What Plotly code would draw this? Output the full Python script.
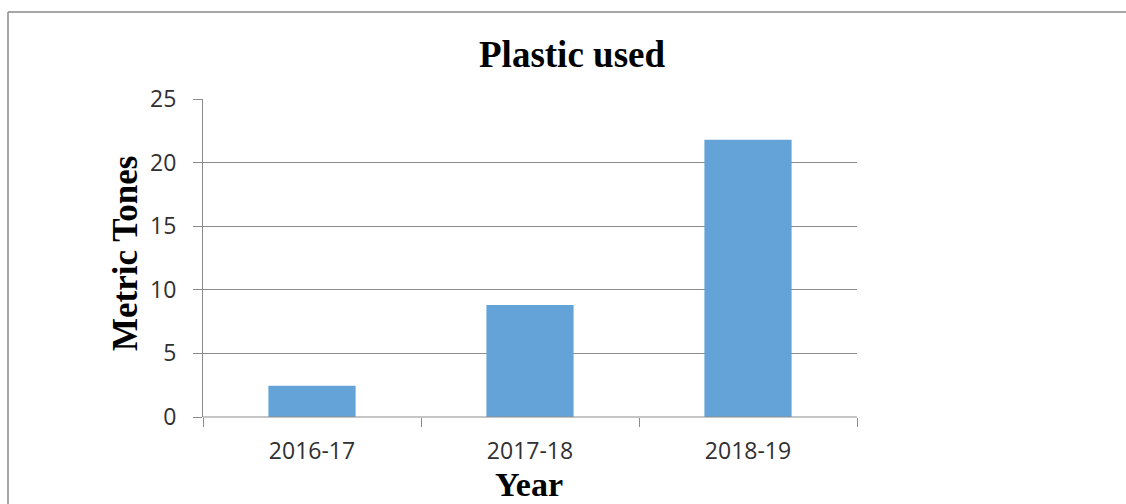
import plotly.graph_objects as go

categories = ["2016-17", "2017-18", "2018-19"]
values = [2.45, 8.8, 21.8]
y_ticks = [0, 5, 10, 15, 20, 25]

W, H = 1126, 504
L, R, T, B = 203, 857, 99.3, 416.7
pw, ph = R - L, B - T

def px(x):
    return (x - L) / pw

def py(y):
    return (B - y) / ph

grid = "#8C8C8C"
serif = "Liberation Serif, Times New Roman, serif"
sans = "Open Sans, sans-serif"

fig = go.Figure(go.Bar(
    x=categories, y=values, width=0.4,
    marker=dict(color="#64A3D7", line=dict(width=0)),
))

fig.update_layout(
    width=W, height=H,
    margin=dict(l=L, r=W - R, t=T, b=H - B, pad=0),
    paper_bgcolor="white", plot_bgcolor="white",
    showlegend=False,
    xaxis=dict(
        type="category", showgrid=False, showline=False,
        ticks="outside", tickson="boundaries", ticklen=9, tickcolor=grid, tickwidth=1,
        tickfont=dict(family=sans, size=23, color="#303030"),
        ticklabelstandoff=18,
        zeroline=False,
    ),
    yaxis=dict(
        range=[0, 25], tickvals=y_ticks, showgrid=True, gridcolor=grid, gridwidth=1,
        showline=True, linecolor=grid, linewidth=1,
        ticks="outside", ticklen=9, tickcolor=grid, tickwidth=1,
        tickfont=dict(family=sans, size=23, color="#303030"),
        ticklabelstandoff=12,
        zeroline=False,
    ),
    annotations=[
        dict(text="<b>Plastic used</b>", x=px(572), y=py(55), xref="paper", yref="paper",
             showarrow=False, font=dict(family=serif, size=37, color="black"),
             xanchor="center", yanchor="middle"),
        dict(text="<b>Metric Tones</b>", x=px(126), y=py(254), xref="paper", yref="paper",
             showarrow=False, textangle=-90, font=dict(family=serif, size=35, color="black"),
             xanchor="center", yanchor="middle"),
        dict(text="<b>Year</b>", x=px(529), y=py(484), xref="paper", yref="paper",
             showarrow=False, font=dict(family=serif, size=34, color="black"),
             xanchor="center", yanchor="middle"),
    ],
    shapes=[
        dict(type="line", xref="paper", yref="paper", x0=px(8), x1=px(W + 5), y0=py(12.5), y1=py(12.5),
             line=dict(color="#8A8A8A", width=1.5)),
        dict(type="line", xref="paper", yref="paper", x0=px(8), x1=px(8), y0=py(12.5), y1=py(H + 5),
             line=dict(color="#8A8A8A", width=1.5)),
        dict(type="line", xref="paper", yref="paper", x0=0, x1=1, y0=0, y1=0,
             line=dict(color=grid, width=1), layer="above"),
    ],
)

fig.write_html("out.html")
